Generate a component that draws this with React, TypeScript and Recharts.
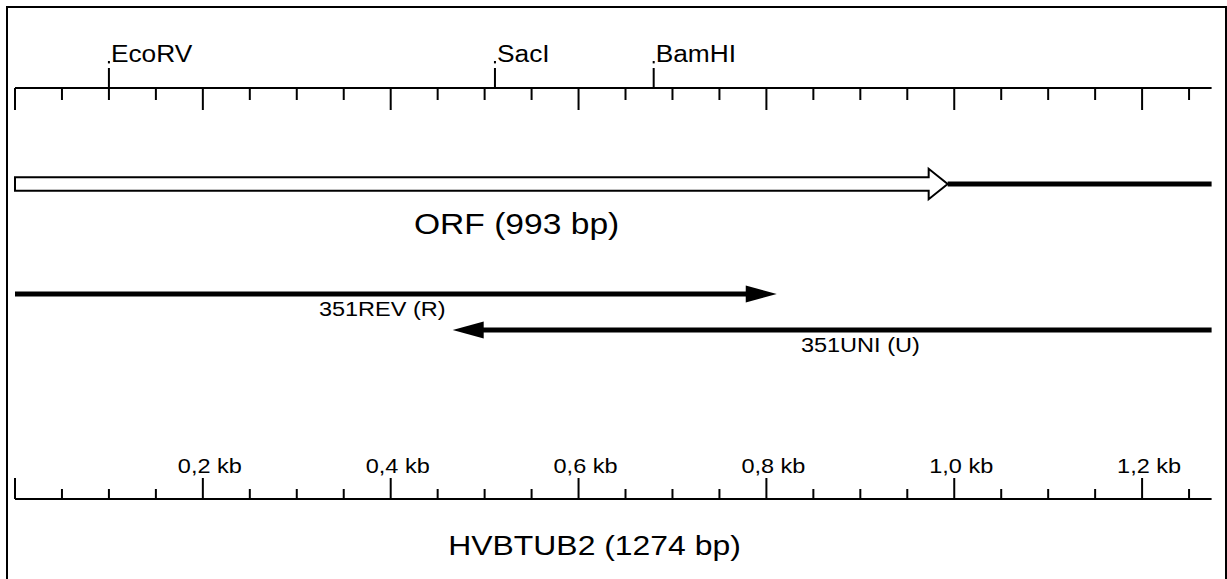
import React from "react";
import {
  ComposedChart,
  ReferenceDot,
  ReferenceLine,
  Scatter,
  XAxis,
  YAxis,
} from "recharts";

// gene
const geneName = "HVBTUB2";
const geneLength = 1274;
const orfStart = 0;
const orfEnd = 993;

// restriction sites (bp)
const siteNames = ["EcoRV", "SacI", "BamHI"];
const sitePositions = [100, 511, 680];

// primers, drawn from their 5' end to the arrow tip
const primerNames = ["351REV (R)", "351UNI (U)"];
const primerFrom = [0, 1274];
const primerTo = [811, 466];

// scale bars (bp)
const scaleTicks = [
  0, 50, 100, 150, 200, 250, 300, 350, 400, 450, 500, 550, 600, 650, 700,
  750, 800, 850, 900, 950, 1000, 1050, 1100, 1150, 1200, 1250,
];
const majorTicks = [0, 200, 400, 600, 800, 1000, 1200];
const majorLabels = ["", "0,2 kb", "0,4 kb", "0,6 kb", "0,8 kb", "1,0 kb", "1,2 kb"];

// layout: lanes on the hidden y axis, and where the captions sit (bp)
const W = 1217;
const H = 571;
const Y_MAX = 411;
const LANE = { orf: 96, rev: 206, uni: 242 };
const CAPTION_AT = { orf: 534, rev: 391, uni: 900, gene: 617 };

const FONT = "'Liberation Sans', Arial, Helvetica, sans-serif";
const SX = 1.12;

function SText({ x, y, size, anchor = "start", children }: any) {
  return (
    <text
      transform={`translate(${x},${y}) scale(${SX},1)`}
      fontSize={size}
      fontFamily={FONT}
      textAnchor={anchor}
      fill="#000"
    >
      {children}
    </text>
  );
}

const siteData = siteNames.map((name, i) => ({ name, bp: sitePositions[i], y: 0 }));

const TopTick = (props: any) => {
  const { x, y, payload } = props;
  const major = payload.value % 200 === 0;
  return (
    <line x1={x} x2={x} y1={y} y2={y + (major ? 22 : 12)} stroke="#000" strokeWidth={2} />
  );
};

const BottomTick = (props: any) => {
  const { x, y, payload } = props;
  const idx = majorTicks.indexOf(payload.value);
  const major = idx >= 0;
  return (
    <g>
      <line x1={x} x2={x} y1={y} y2={y - (major ? 21 : 10)} stroke="#000" strokeWidth={2} />
      {major && majorLabels[idx] ? (
        <SText x={x + 7} y={y - 26} size={21} anchor="middle">
          {majorLabels[idx]}
        </SText>
      ) : null}
    </g>
  );
};

const SiteMark = (props: any) => {
  const { cx, cy, payload } = props;
  return (
    <g>
      <line x1={cx} x2={cx} y1={cy} y2={cy - 20} stroke="#000" strokeWidth={2} />
      <rect x={cx - 1} y={cy - 27} width={2} height={2.4} fill="#000" />
      <SText x={cx + 2} y={cy - 26} size={23.5}>
        {payload.name}
      </SText>
    </g>
  );
};

const OrfArrow = (props: any) => {
  const { x1, x2, y1 } = props;
  const shaft = 6.75;
  const head = 15.25;
  const headLen = 19;
  const xb = x2 - headLen;
  const pts = [
    [x1, y1 - shaft],
    [xb, y1 - shaft],
    [xb, y1 - head],
    [x2, y1],
    [xb, y1 + head],
    [xb, y1 + shaft],
    [x1, y1 + shaft],
  ]
    .map((p) => p.join(","))
    .join(" ");
  return <polygon points={pts} fill="#fff" stroke="#000" strokeWidth={2} strokeLinejoin="miter" />;
};

const PrimerArrow = (props: any) => {
  const { x1, x2, y1 } = props;
  const dir = x2 > x1 ? 1 : -1;
  const headLen = 31;
  const half = 8.5;
  const xb = x2 - dir * headLen;
  return (
    <g>
      <line x1={x1} x2={xb + dir * 2} y1={y1} y2={y1} stroke="#000" strokeWidth={5} />
      <polygon points={`${xb},${y1 - half} ${x2},${y1} ${xb},${y1 + half}`} fill="#000" />
    </g>
  );
};

const caption = (text: string, size: number, dy: number) => (props: any) => (
  <SText x={props.cx} y={props.cy + dy} size={size} anchor="middle">
    {text}
  </SText>
);

export default function App() {
  const lanes = [LANE.rev, LANE.uni];
  const primerCaption = [CAPTION_AT.rev, CAPTION_AT.uni];
  return (
    <div
      style={{
        position: "absolute",
        left: 6,
        top: 6,
        width: W,
        height: H,
        borderTop: "2px solid #000",
        borderLeft: "2px solid #000",
        borderRight: "2px solid #000",
        background: "#fff",
      }}
    >
      <ComposedChart width={W} height={H} margin={{ top: 0, right: 13.4, bottom: 0, left: 7 }}>
        <XAxis
          xAxisId="top"
          orientation="top"
          type="number"
          dataKey="bp"
          domain={[0, geneLength]}
          allowDataOverflow
          ticks={scaleTicks}
          interval={0}
          height={80}
          tickSize={0}
          tickMargin={0}
          tickLine={false}
          axisLine={{ stroke: "#000", strokeWidth: 2 }}
          tick={<TopTick />}
        />
        <XAxis
          xAxisId="bottom"
          orientation="bottom"
          type="number"
          dataKey="bp"
          domain={[0, geneLength]}
          allowDataOverflow
          ticks={scaleTicks}
          interval={0}
          height={80}
          tickSize={0}
          tickMargin={0}
          tickLine={false}
          axisLine={{ stroke: "#000", strokeWidth: 2 }}
          tick={<BottomTick />}
        />
        <YAxis type="number" dataKey="y" domain={[0, Y_MAX]} reversed hide />

        <Scatter
          xAxisId="bottom"
          data={siteData}
          dataKey="y"
          shape={SiteMark}
          isAnimationActive={false}
        />

        {/* 3' part after the ORF */}
        <ReferenceLine
          xAxisId="bottom"
          segment={[
            { x: orfEnd, y: LANE.orf },
            { x: geneLength, y: LANE.orf },
          ]}
          stroke="#000"
          strokeWidth={5}
        />
        <ReferenceLine
          xAxisId="bottom"
          segment={[
            { x: orfStart, y: LANE.orf },
            { x: orfEnd, y: LANE.orf },
          ]}
          shape={OrfArrow}
        />
        {primerNames.map((name, i) => (
          <ReferenceLine
            key={name}
            xAxisId="bottom"
            segment={[
              { x: primerFrom[i], y: lanes[i] },
              { x: primerTo[i], y: lanes[i] },
            ]}
            shape={PrimerArrow}
          />
        ))}

        <ReferenceDot
          xAxisId="bottom"
          x={CAPTION_AT.orf}
          y={LANE.orf}
          r={0}
          shape={caption(`ORF (${orfEnd - orfStart} bp)`, 30, 50)}
        />
        {primerNames.map((name, i) => (
          <ReferenceDot
            key={name + "-label"}
            xAxisId="bottom"
            x={primerCaption[i]}
            y={lanes[i]}
            r={0}
            shape={caption(name, 21, 22)}
          />
        ))}
        <ReferenceDot
          xAxisId="bottom"
          x={CAPTION_AT.gene}
          y={Y_MAX}
          r={0}
          shape={caption(`${geneName} (${geneLength} bp)`, 28.5, 56)}
        />
      </ComposedChart>
    </div>
  );
}
